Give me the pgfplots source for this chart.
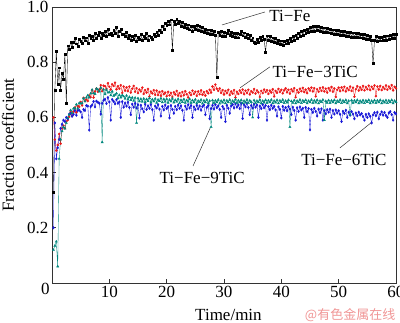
\documentclass[border=0pt]{standalone}
\usepackage{pgfplots}
\usepackage{pgfplotstable}
\pgfplotsset{compat=1.18}
\usepackage{fontspec}
\setmainfont{Liberation Serif}
\newfontfamily\cjk{Noto Sans CJK SC}
\definecolor{cred}{RGB}{235,25,25}
\definecolor{cblue}{RGB}{25,25,215}
\definecolor{cteal}{RGB}{0,135,125}
\definecolor{wm}{RGB}{240,150,150}
\pgfplotstableread{
t B R U G
0.25 .330 .600 .200 .120
0.50 .700 .520 .580 .135
0.75 .840 .480 .450 .150
1.00 .720 .500 .490 .060
1.25 .780 .540 .520 .450
1.50 .700 .505 .560 .520
1.75 .760 .560 .575 .550
2.00 .740 .570 .590 .565
2.25 .830 .560 .585 .560
2.50 .650 .585 .600 .580
2.75 .860 .590 .595 .598
3.00 .848 .602 .612 .610
3.25 .873 .619 .614 .626
3.50 .856 .605 .604 .616
3.75 .873 .621 .611 .632
4.00 .886 .636 .625 .633
4.25 .867 .618 .608 .647
4.50 .859 .641 .625 .632
4.75 .883 .638 .626 .652
5.00 .876 .656 .620 .650
5.25 .869 .643 .600 .651
5.50 .891 .671 .629 .669
5.75 .878 .659 .625 .658
6.00 .889 .665 .643 .672
6.25 .869 .659 .641 .680
6.50 .897 .680 .554 .672
6.75 .887 .673 .639 .687
7.00 .894 .699 .645 .700
7.25 .881 .672 .658 .688
7.50 .905 .694 .638 .685
7.75 .887 .705 .659 .704
8.00 .897 .693 .655 .701
8.25 .908 .701 .651 .694
8.50 .886 .717 .612 .707
8.75 .905 .695 .651 .510
9.00 .897 .715 .662 .701
9.25 .911 .713 .666 .684
9.50 .895 .703 .650 .700
9.75 .919 .724 .672 .690
10.00 .903 .711 .656 .692
10.25 .906 .701 .590 .680
10.50 .897 .720 .665 .694
10.75 .915 .714 .658 .678
11.00 .904 .726 .649 .682
11.25 .926 .702 .664 .687
11.50 .895 .713 .651 .669
11.75 .913 .704 .656 .681
12.00 .919 .717 .600 .672
12.25 .900 .689 .657 .680
12.50 .903 .712 .637 .676
12.75 .894 .697 .652 .668
13.00 .908 .709 .641 .679
13.25 .886 .695 .655 .665
13.50 .897 .712 .636 .674
13.75 .879 .690 .610 .663
14.00 .894 .704 .648 .672
14.25 .883 .714 .637 .660
14.50 .899 .693 .651 .671
14.75 .875 .706 .634 .580
15.00 .891 .688 .646 .669
15.25 .884 .701 .598 .658
15.50 .902 .694 .644 .667
15.75 .880 .708 .631 .657
16.00 .893 .685 .620 .668
16.25 .887 .699 .648 .655
16.50 .904 .690 .629 .666
16.75 .881 .703 .642 .659
17.00 .896 .676 .633 .670
17.25 .890 .694 .647 .654
17.50 .885 .687 .628 .665
17.75 .902 .699 .590 .658
18.00 .893 .682 .641 .668
18.25 .910 .697 .634 .653
18.50 .898 .681 .646 .664
18.75 .917 .692 .630 .659
19.00 .909 .678 .605 .669
19.25 .929 .695 .640 .655
19.50 .921 .684 .627 .666
19.75 .942 .690 .645 .657
20.00 .933 .677 .632 .667
20.25 .950 .693 .639 .653
20.50 .936 .680 .598 .664
20.75 .954 .689 .643 .658
21.00 .845 .674 .629 .668
21.25 .948 .691 .615 .654
21.50 .939 .683 .640 .663
21.75 .957 .696 .628 .657
22.00 .941 .679 .645 .667
22.25 .949 .688 .633 .652
22.50 .930 .676 .642 .663
22.75 .944 .692 .626 .656
23.00 .927 .680 .590 .666
23.25 .938 .695 .641 .653
23.50 .922 .684 .630 .662
23.75 .936 .672 .646 .657
24.00 .918 .690 .634 .667
24.25 .931 .681 .643 .652
24.50 .914 .697 .600 .662
24.75 .930 .685 .638 .655
25.00 .919 .693 .628 .665
25.25 .935 .678 .644 .651
25.50 .916 .694 .631 .660
25.75 .929 .684 .641 .656
26.00 .912 .698 .626 .664
26.25 .926 .682 .639 .650
26.50 .909 .692 .645 .661
26.75 .921 .679 .610 .655
27.00 .906 .695 .636 .664
27.25 .918 .687 .643 .651
27.50 .903 .700 .595 .660
27.75 .915 .690 .632 .565
28.00 .902 .712 .644 .662
28.25 .913 .700 .630 .652
28.50 .898 .719 .646 .661
28.75 .745 .704 .635 .655
29.00 .910 .696 .642 .664
29.25 .897 .705 .629 .650
29.50 .911 .689 .600 .660
29.75 .895 .699 .640 .654
30.00 .908 .683 .631 .663
30.25 .893 .696 .585 .651
30.50 .906 .688 .644 .661
30.75 .917 .700 .633 .655
31.00 .899 .681 .615 .664
31.25 .910 .694 .641 .650
31.50 .895 .686 .647 .660
31.75 .906 .699 .634 .656
32.00 .892 .672 .649 .665
32.25 .904 .693 .637 .652
32.50 .889 .685 .645 .661
32.75 .901 .698 .632 .655
33.00 .914 .689 .650 .663
33.25 .896 .701 .596 .651
33.50 .907 .684 .646 .660
33.75 .890 .697 .638 .654
34.00 .902 .688 .651 .664
34.25 .886 .700 .636 .652
34.50 .897 .683 .610 .661
34.75 .880 .695 .643 .656
35.00 .889 .690 .634 .600
35.25 .872 .703 .648 .662
35.50 .868 .686 .637 .652
35.75 .882 .698 .645 .660
36.00 .874 .691 .600 .655
36.25 .890 .674 .641 .664
36.50 .879 .696 .632 .651
36.75 .894 .688 .647 .660
37.00 .883 .701 .635 .654
37.25 .835 .692 .643 .663
37.50 .896 .699 .590 .652
37.75 .880 .685 .639 .661
38.00 .893 .697 .628 .655
38.25 .877 .690 .644 .664
38.50 .889 .702 .633 .651
38.75 .873 .676 .640 .660
39.00 .886 .696 .627 .654
39.25 .869 .689 .605 .663
39.50 .881 .703 .638 .651
39.75 .866 .692 .629 .661
40.00 .878 .700 .598 .656
40.25 .863 .687 .640 .664
40.50 .876 .698 .626 .652
40.75 .867 .705 .636 .660
41.00 .881 .691 .624 .654
41.25 .870 .700 .639 .663
41.50 .886 .686 .630 .565
41.75 .876 .702 .610 .659
42.00 .893 .694 .637 .653
42.25 .881 .706 .625 .662
42.50 .899 .673 .590 .651
42.75 .888 .699 .635 .660
43.00 .905 .690 .622 .655
43.25 .894 .704 .638 .664
43.50 .911 .695 .627 .652
43.75 .899 .707 .633 .661
44.00 .916 .692 .600 .656
44.25 .904 .701 .636 .663
44.50 .921 .688 .621 .651
44.75 .908 .705 .632 .660
45.00 .926 .697 .555 .655
45.25 .911 .708 .629 .664
45.50 .929 .694 .618 .652
45.75 .913 .706 .633 .661
46.00 .931 .676 .622 .654
46.25 .916 .702 .605 .663
46.50 .930 .693 .630 .651
46.75 .914 .707 .617 .660
47.00 .927 .696 .631 .656
47.25 .910 .709 .590 .664
47.50 .925 .694 .624 .590
47.75 .909 .704 .613 .659
48.00 .923 .690 .628 .653
48.25 .907 .706 .619 .662
48.50 .921 .697 .630 .652
48.75 .905 .710 .600 .661
49.00 .918 .693 .625 .655
49.25 .902 .705 .612 .663
49.50 .916 .674 .627 .651
49.75 .900 .700 .616 .660
50.00 .915 .708 .624 .656
50.25 .898 .695 .611 .664
50.50 .913 .709 .585 .652
50.75 .897 .698 .622 .661
51.00 .911 .711 .614 .655
51.25 .895 .694 .626 .663
51.50 .910 .706 .600 .651
51.75 .893 .699 .619 .660
52.00 .908 .712 .608 .610
52.25 .892 .696 .621 .662
52.50 .907 .708 .612 .652
52.75 .891 .675 .595 .661
53.00 .906 .702 .616 .655
53.25 .890 .713 .606 .663
53.50 .904 .697 .619 .651
53.75 .889 .709 .609 .660
54.00 .903 .700 .614 .654
54.25 .887 .714 .603 .662
54.50 .900 .698 .590 .652
54.75 .885 .710 .611 .661
55.00 .898 .702 .600 .656
55.25 .882 .715 .613 .663
55.50 .895 .699 .604 .651
55.75 .880 .711 .580 .660
56.00 .795 .703 .609 .654
56.25 .879 .716 .617 .662
56.50 .893 .677 .606 .652
56.75 .877 .712 .619 .661
57.00 .891 .701 .595 .655
57.25 .878 .714 .611 .663
57.50 .892 .699 .620 .651
57.75 .880 .710 .608 .660
58.00 .894 .703 .618 .654
58.25 .881 .716 .607 .662
58.50 .896 .700 .600 .652
58.75 .884 .712 .616 .661
59.00 .898 .704 .621 .655
59.25 .886 .717 .610 .663
59.50 .900 .698 .590 .651
59.75 .888 .711 .618 .660
60.00 .902 .705 .613 .656
}\data
\begin{document}
\begin{tikzpicture}
\begin{axis}[
  at={(0,0)}, anchor=south west,
  scale only axis, width=344pt, height=276pt,
  xmin=0, xmax=60, ymin=0, ymax=1.0,
  xtick={10,20,30,40,50,60},
  ytick={0.2,0.4,0.6,0.8,1.0},
  yticklabel style={/pgf/number format/.cd, fixed, fixed zerofill, precision=1},
  /pgf/number format/assume math mode=true,
  tick pos=left, tick align=inside, major tick length=4pt,
  axis line style={black!80, line width=0.8pt},
  every tick/.style={black!80, line width=0.7pt},
  tick label style={font=\fontsize{17}{20}\selectfont},
  label style={font=\fontsize{17}{20}\selectfont},
  xlabel={Time/min},
  xlabel style={at={(axis description cs:0.513,-0.116)}, anchor=center},
  ylabel={Fraction coefficient},
  ylabel style={at={(axis description cs:-0.10,0.5)}, anchor=south},
  clip=false,
]
\addplot[black, line width=0.35pt, mark=square*, mark size=0.95pt] table[x=t,y=B] {\data};
\addplot[cred, line width=0.35pt, mark=*, mark size=1.05pt] table[x=t,y=R] {\data};
\addplot[cblue, line width=0.35pt, mark=diamond*, mark size=1.3pt] table[x=t,y=U] {\data};
\addplot[cteal, line width=0.35pt, mark=triangle*, mark size=1.3pt] table[x=t,y=G] {\data};
\draw[black!80, line width=0.5pt] (axis cs:29.65,0.935) -- (axis cs:37.15,0.982);
\node[font=\fontsize{17}{20}\selectfont] at (axis cs:41.5,0.967) {Ti−Fe};
\draw[black!80, line width=0.5pt] (axis cs:32.8,0.707) -- (axis cs:38.0,0.783);
\node[font=\fontsize{17}{20}\selectfont] at (axis cs:45.9,0.764) {Ti−Fe−3TiC};
\draw[black!80, line width=0.5pt] (axis cs:50.2,0.489) -- (axis cs:55.8,0.583);
\node[font=\fontsize{17}{20}\selectfont] at (axis cs:50.9,0.446) {Ti−Fe−6TiC};
\draw[black!80, line width=0.5pt] (axis cs:24.6,0.424) -- (axis cs:27.6,0.562);
\node[font=\fontsize{17}{20}\selectfont] at (axis cs:26.2,0.380) {Ti−Fe−9TiC};
\node[font=\fontsize{17}{20}\selectfont] at ([xshift=-6.5pt,yshift=-6pt]axis cs:0,0) {0};
\node[font=\cjk\fontsize{13}{15}\selectfont, text=wm] at ([yshift=-32pt]axis cs:52.0,0) {@有色金属在线};
\end{axis}
\pgfresetboundingbox
\path[use as bounding box] (-52pt,-40pt) rectangle (348pt,283pt);
\end{tikzpicture}
\end{document}
